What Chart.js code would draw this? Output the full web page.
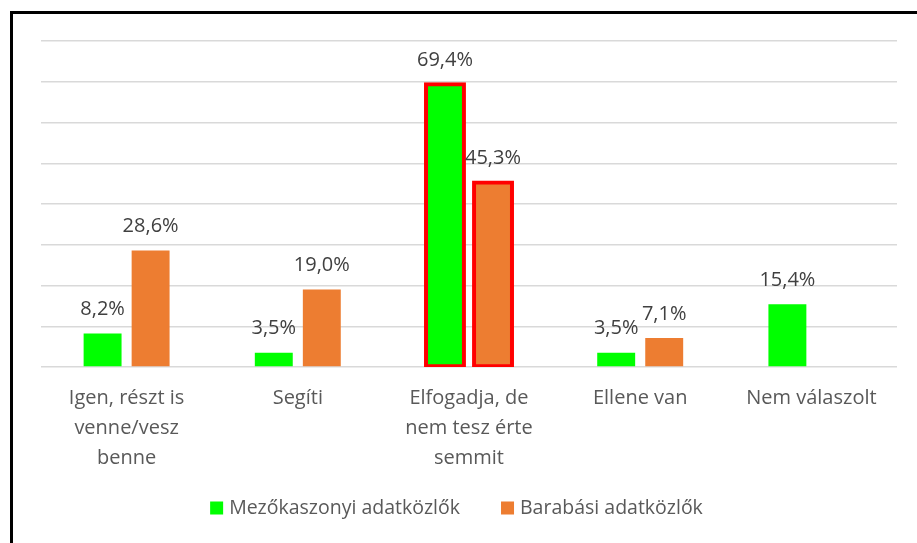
<!DOCTYPE html>
<html>
<head>
<meta charset="utf-8">
<script src="https://cdn.jsdelivr.net/npm/chart.js@4/dist/chart.umd.min.js"></script>
<style>
  html, body { margin: 0; padding: 0; background: #fff; overflow: hidden; }
  #wrap { position: relative; width: 917px; height: 543px; }
  #frame { position: absolute; left: 10px; top: 11px; width: 1200px; height: 1200px; border: 3px solid #000; box-sizing: border-box; pointer-events: none; }
  canvas { position: absolute; left: 0; top: 0; }
</style>
</head>
<body>
<div id="wrap">
  <canvas id="c" width="917" height="543"></canvas>
  <div id="frame"></div>
</div>
<script>
const categories = [
  ["Igen, részt is", "venne/vesz", "benne"],
  ["Segíti"],
  ["Elfogadja, de", "nem tesz érte", "semmit"],
  ["Ellene van"],
  ["Nem válaszolt"]
];
const seriesNames = ["Mezőkaszonyi adatközlők", "Barabási adatközlők"];
const mezokaszonyi = [8.2, 3.5, 69.4, 3.5, 15.4];
const barabasi = [28.6, 19.0, 45.3, 7.1, null];
const highlightIndex = 2;
const yMax = 80;
const yStep = 10;

const FONT = "'Open Sans', 'Noto Sans', sans-serif";
const TEXT = '#595959';
const LABEL_TEXT = '#404040';

const fmt = v => v.toFixed(1).replace('.', ',') + '%';

const dataLabels = {
  id: 'dataLabels',
  afterDatasetsDraw(chart) {
    const ctx = chart.ctx;
    ctx.save();
    ctx.font = '20px ' + FONT;
    ctx.fillStyle = LABEL_TEXT;
    ctx.textAlign = 'center';
    ctx.textBaseline = 'middle';
    chart.data.datasets.forEach((ds, di) => {
      const meta = chart.getDatasetMeta(di);
      meta.data.forEach((bar, i) => {
        const v = ds.data[i];
        if (v === null || v === undefined) return;
        ctx.fillText(fmt(v), bar.x, bar.y - 24);
      });
    });
    ctx.restore();
  }
};

// Bottom legend drawn from the datasets (box 13px, 6px gap to text, ~40px between items)
const bottomLegend = {
  id: 'bottomLegend',
  afterDraw(chart) {
    const ctx = chart.ctx;
    const box = 13, gap = 6, itemGap = 41;
    ctx.save();
    ctx.font = '19.5px ' + FONT;
    const items = chart.data.datasets.map(ds => ({
      text: ds.label, color: ds.backgroundColor, w: ctx.measureText(ds.label).width
    }));
    const total = items.reduce((s, it) => s + box + gap + it.w, 0) + itemGap * (items.length - 1);
    let x = chart.width / 2 - 2 - total / 2;
    const cy = 508;
    ctx.textBaseline = 'middle';
    ctx.textAlign = 'left';
    items.forEach(it => {
      ctx.fillStyle = it.color;
      ctx.fillRect(x, cy - box / 2, box, box);
      ctx.fillStyle = TEXT;
      ctx.fillText(it.text, x + box + gap, cy);
      x += box + gap + it.w + itemGap;
    });
    ctx.restore();
  }
};

const hl = (on, off) => c => c.dataIndex === highlightIndex ? on : off;

new Chart(document.getElementById('c'), {
  type: 'bar',
  data: {
    labels: categories,
    datasets: [
      {
        label: seriesNames[0],
        data: mezokaszonyi,
        backgroundColor: '#00ff00',
        borderColor: '#ff0000',
        borderWidth: hl(4, 0),
        inflateAmount: hl(2, 0),
        borderSkipped: false,
        categoryPercentage: 0.561,
        barPercentage: 0.79
      },
      {
        label: seriesNames[1],
        data: barabasi,
        backgroundColor: '#ed7d31',
        borderColor: '#ff0000',
        borderWidth: hl(4, 0),
        inflateAmount: hl(2, 0),
        borderSkipped: false,
        categoryPercentage: 0.561,
        barPercentage: 0.79
      }
    ]
  },
  options: {
    responsive: false,
    animation: false,
    devicePixelRatio: 1,
    layout: { padding: { left: 41, right: 20, top: 41, bottom: 54 } },
    plugins: {
      tooltip: { enabled: false },
      legend: { display: false }
    },
    scales: {
      x: {
        grid: { display: false, drawTicks: false },
        border: { display: false },
        ticks: {
          color: TEXT,
          font: { family: FONT, size: 20, lineHeight: '30px' },
          padding: 16,
          maxRotation: 0,
          autoSkip: false
        }
      },
      y: {
        min: 0,
        max: yMax,
        ticks: { display: false, stepSize: yStep },
        grid: { color: '#d9d9d9', lineWidth: 1.5, drawTicks: false },
        border: { display: false }
      }
    }
  },
  plugins: [dataLabels, bottomLegend]
});
</script>
</body>
</html>
